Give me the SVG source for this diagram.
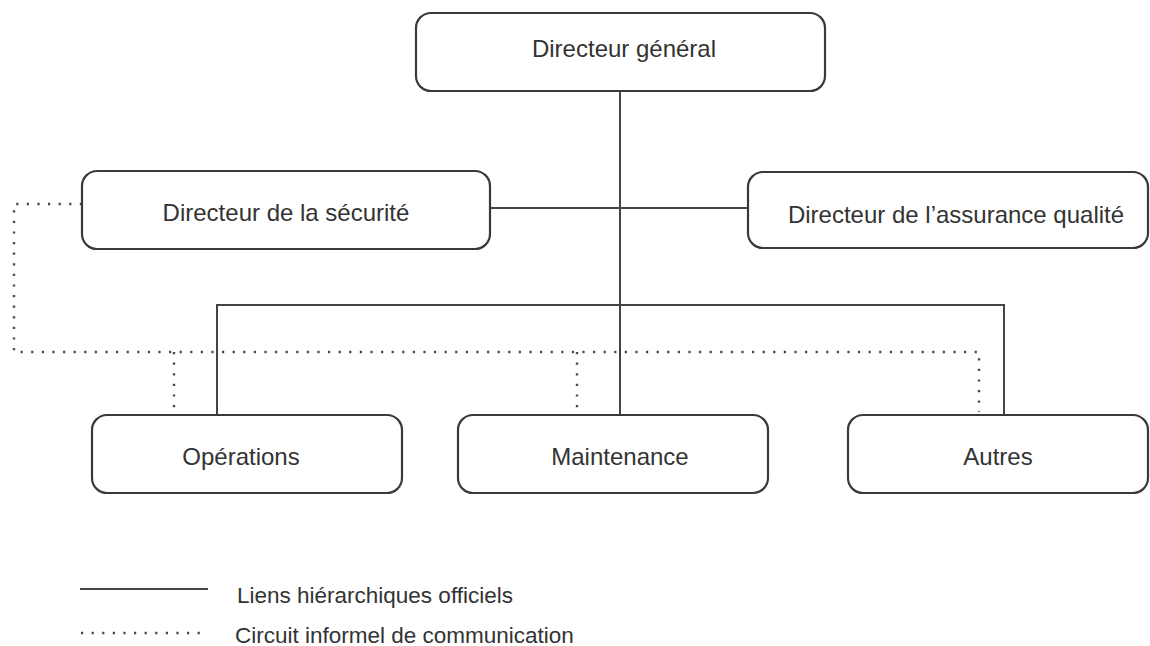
<svg xmlns="http://www.w3.org/2000/svg" width="1150" height="646" viewBox="0 0 1150 646">
<style>
.box{fill:#fff;stroke:#3a3a3a;stroke-width:2.2}
.lbl{font-family:"Liberation Sans",Arial,sans-serif;font-size:24px;fill:#333;text-anchor:middle}
.leg{font-family:"Liberation Sans",Arial,sans-serif;font-size:22.5px;fill:#333}
.solid{fill:none;stroke:#444;stroke-width:2}
.dot{fill:none;stroke:#4a4a4a;stroke-width:2.4;stroke-dasharray:2.2 8.4}
</style>
<rect width="1150" height="646" fill="#fff"/>
<g id="connectors">
<path class="dot" d="M82,204 H14 V352 H979 V412"/>
<path class="dot" d="M174,352 V412"/>
<path class="dot" d="M577,352 V412"/>
<path class="solid" d="M620,91 V415"/>
<path class="solid" d="M490,208 H748"/>
<path class="solid" d="M217,415 V305 H1004 V415"/>
</g>
<g id="n-dg"><rect class="box" x="416" y="13" width="409" height="78" rx="15"/><text class="lbl" x="624" y="57">Directeur général</text></g>
<g id="n-securite"><rect class="box" x="82" y="171" width="408" height="78" rx="15"/><text class="lbl" x="286" y="221">Directeur de la sécurité</text></g>
<g id="n-assurance"><rect class="box" x="748" y="172" width="400" height="76" rx="15"/><text class="lbl" x="956" y="223">Directeur de l’assurance qualité</text></g>
<g id="n-operations"><rect class="box" x="92" y="415" width="310" height="78" rx="15"/><text class="lbl" x="241" y="465">Opérations</text></g>
<g id="n-maintenance"><rect class="box" x="458" y="415" width="310" height="78" rx="15"/><text class="lbl" x="620" y="465">Maintenance</text></g>
<g id="n-autres"><rect class="box" x="848" y="415" width="300" height="78" rx="15"/><text class="lbl" x="998" y="465">Autres</text></g>
<g id="legend">
<path class="solid" d="M80,589 H208"/>
<text class="leg" x="237" y="603">Liens hiérarchiques officiels</text>
<path class="dot" d="M81,633 H208"/>
<text class="leg" x="235" y="643">Circuit informel de communication</text>
</g>
</svg>
